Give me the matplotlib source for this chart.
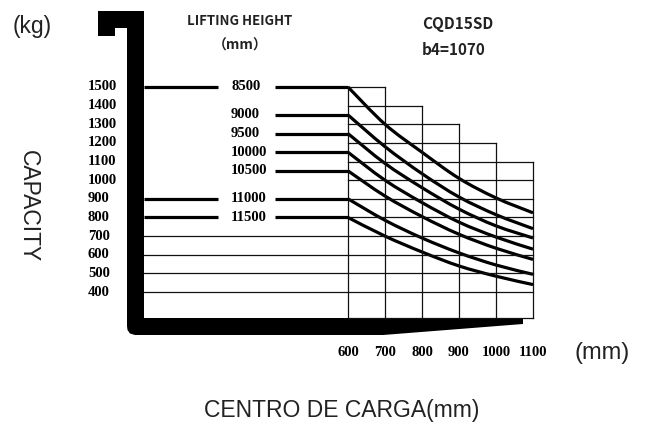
import numpy as np
import matplotlib.pyplot as plt
from matplotlib.patches import Polygon, PathPatch
from matplotlib.path import Path

# Datos
centros = [600, 700, 800, 900, 1000, 1100]  # centro de carga mm
alturas = ['8500', '9000', '9500', '10000', '10500', '11000', '11500']
cargas = [
    [1500, 1300, 1150, 1010, 905, 825],
    [1350, 1180, 1035, 910, 815, 740],
    [1250, 1090, 960, 845, 755, 690],
    [1150, 1000, 880, 775, 695, 630],
    [1050, 915, 805, 710, 635, 575],
    [900, 785, 690, 610, 545, 495],
    [800, 700, 615, 540, 485, 440],
]
linea_izq = [True, False, False, False, False, True, True]
ticks_y = [1500, 1400, 1300, 1200, 1100, 1000, 900, 800, 700, 600, 500, 400]
ticks_x = ['600', '700', '800', '900', '1000', '1100']
techo_rejilla = [1500, 1500, 1400, 1300, 1200, 1100]  # top of each vertical grid line

# Escala (px de la imagen <-> mm / kg)
W, H = 651, 426
px600, px_mm = 348, 0.37
py1500, py_kg = 87, 0.1864
def mm(px):
    return 600 + (px - px600) / px_mm
def kg(py):
    return 1500 - (py - py1500) / py_kg

def curva_suave(xs, ys):
    # Bezier cubico por los puntos (Catmull-Rom), solo para el trazo
    p = np.column_stack([xs, ys]).astype(float)
    q = np.vstack([p[0], p, p[-1]])
    verts = [p[0]]
    codes = [Path.MOVETO]
    for i in range(len(p) - 1):
        a, b, c, d = q[i], q[i + 1], q[i + 2], q[i + 3]
        verts += [b + (c - a) / 6, c - (d - b) / 6, c]
        codes += [Path.CURVE4] * 3
    return Path(verts, codes)

piso = kg(318)
borde = mm(144)

fig = plt.figure(figsize=(W / 100, H / 100), dpi=100)
ax = fig.add_axes([0, 0, 1, 1])
ax.set_xlim(mm(0), mm(W))
ax.set_ylim(kg(H), kg(0))
ax.axis('off')

# Rejilla
negro = '#111111'
fino = 0.9
grueso = 2.3
ax.plot([600, 600], [piso, 1500], color=negro, lw=fino)
for x, top in zip(centros[1:], techo_rejilla[1:]):
    ax.plot([x, x], [piso, top], color=negro, lw=fino)
for v in ticks_y:
    xs = [x for x, t in zip(centros, techo_rejilla) if t >= v]
    fin = xs[-1] if v < 1500 else 700
    ini = borde if v <= 700 else 600
    ax.plot([ini, fin], [v, v], color=negro, lw=fino)
ax.plot([600, 1100], [piso, piso], color=negro, lw=fino)

# Curvas
for h, c, izq in zip(alturas, cargas, linea_izq):
    ax.add_patch(PathPatch(curva_suave(centros, c), facecolor='none', edgecolor='black',
                           lw=grueso, capstyle='butt'))
    ax.plot([mm(275), 600], [c[0], c[0]], color='black', lw=grueso, solid_capstyle='butt')
    if izq:
        ax.plot([borde, mm(218)], [c[0], c[0]], color='black', lw=grueso, solid_capstyle='butt')
    ax.text(mm(231), c[0], h, ha='left', va='center', fontsize=10.5,
            family='Liberation Serif', fontweight='bold')

# Horquilla / mástil
forma = [(98, 11), (144, 11), (144, 318), (523, 318), (523, 324), (383, 335),
         (135, 335), (130, 333.5), (127.5, 330), (127, 326), (127, 28), (115, 28),
         (115, 36), (98, 36)]
ax.add_patch(Polygon([(x / W, 1 - y / H) for x, y in forma], closed=True,
                     transform=ax.transAxes, facecolor='black', edgecolor='none'))

# Etiquetas de ejes
for v in ticks_y:
    ax.text(mm(88), v, str(v), ha='left', va='center', fontsize=10.5,
            family='Liberation Serif', fontweight='bold')
for x, t in zip(centros, ticks_x):
    ax.text(x, kg(353), t, ha='center', va='center', fontsize=10.5,
            family='Liberation Serif', fontweight='bold')

gris = '#222222'
narrow = ['Liberation Sans Narrow', 'Noto Sans CJK SC', 'DejaVu Sans']
fig.text(13 / W, 1 - 26 / H, '(kg)', ha='left', va='center', fontsize=16.5,
         family='Liberation Sans', color=gris)
fig.text(28 / W, 1 - 206 / H, 'CAPACITY', ha='center', va='center', fontsize=16.5,
         family='Liberation Sans', color=gris, rotation=-90)
fig.text(575 / W, 1 - 353 / H, '(mm)', ha='left', va='center', fontsize=17,
         family='Liberation Sans', color=gris)
fig.text(342 / W, 1 - 411 / H, 'CENTRO DE CARGA(mm)', ha='center', va='center',
         fontsize=16.5, family='Liberation Sans', color=gris)
fig.text(240 / W, 1 - 21 / H, 'LIFTING HEIGHT', ha='center', va='center', fontsize=9.5,
         family=narrow, fontweight='bold', color=gris)
fig.text(240 / W, 1 - 46 / H, '（mm）', ha='center', va='center', fontsize=10,
         family=narrow, fontweight='bold', color=gris)
fig.text(422 / W, 1 - 24 / H, 'CQD15SD', ha='left', va='center', fontsize=11,
         family=narrow, fontweight='bold', color=gris)
fig.text(422 / W, 1 - 50 / H, 'b4=1070', ha='left', va='center', fontsize=11,
         family=narrow, fontweight='bold', color=gris)

fig.savefig('out.png', dpi=100)
